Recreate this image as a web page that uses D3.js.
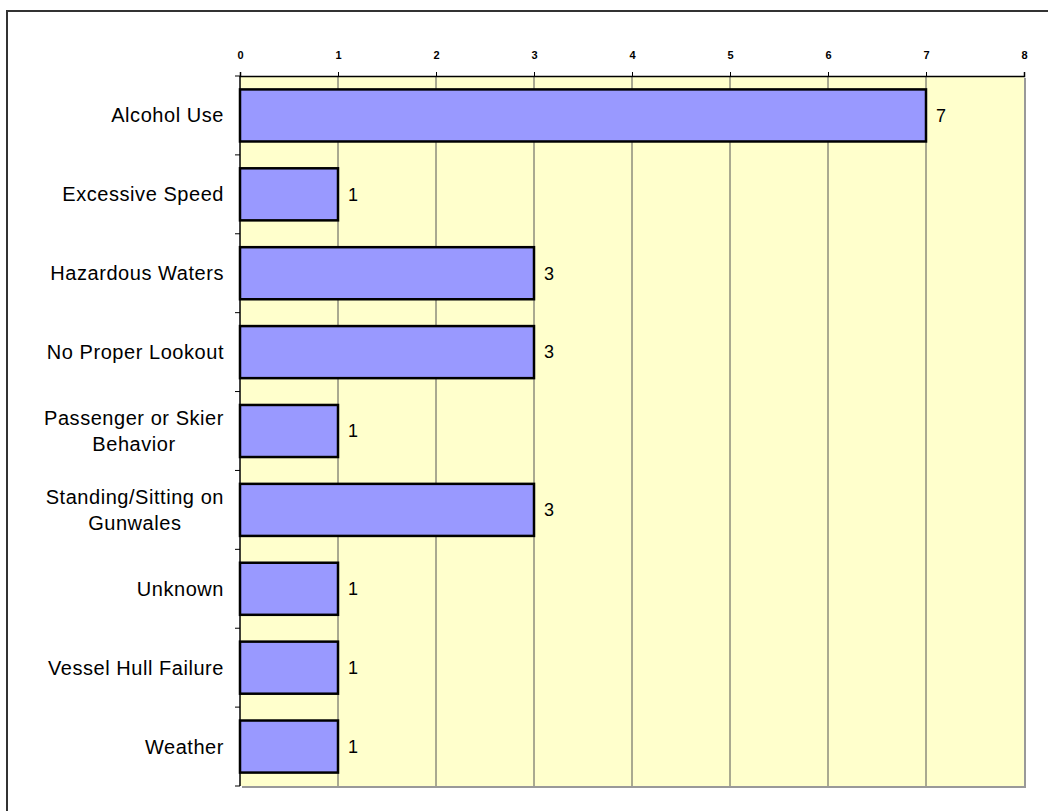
<!DOCTYPE html>
<html><head><meta charset="utf-8">
<script src="https://cdn.jsdelivr.net/npm/d3@7/dist/d3.min.js"></script>
<style>body{margin:0;background:#fff}svg{display:block}</style>
</head><body><svg id="c" width="1048" height="811"></svg>
<script>
const categories = [["Alcohol Use"],["Excessive Speed"],["Hazardous Waters"],["No Proper Lookout"],["Passenger or Skier","Behavior"],["Standing/Sitting on","Gunwales"],["Unknown"],["Vessel Hull Failure"],["Weather"]];
const values = [7,1,3,3,1,3,1,1,1];
const ticks = [0,1,2,3,4,5,6,7,8];

const FONT = "Arial, 'Liberation Sans', sans-serif";
const svg = d3.select("#c");
const m = {l:240, t:76, r:1024, b:786};
// outer border
svg.append("path").attr("d","M7,1000 V11 H1100").attr("fill","none").attr("stroke","#333").attr("stroke-width",2);

const x = d3.scaleLinear().domain([0,8]).range([m.l,m.r]);
const y = d3.scaleBand().domain(d3.range(categories.length)).range([m.t,m.b]).paddingInner(0.34).paddingOuter(0.17);
const yb = d3.scaleBand().domain(d3.range(categories.length)).range([m.t,m.b]);

// shadow
svg.append("rect").attr("x",m.l+2).attr("y",m.t+2).attr("width",m.r-m.l).attr("height",m.b-m.t).attr("fill","#999");
svg.append("rect").attr("x",m.l).attr("y",m.t).attr("width",m.r-m.l).attr("height",m.b-m.t).attr("fill","#ffffcc");

// gridlines
svg.append("g").selectAll("line").data(ticks.slice(1,-1)).join("line")
  .attr("x1",d=>x(d)).attr("x2",d=>x(d)).attr("y1",m.t).attr("y2",m.b)
  .attr("stroke","#555").attr("stroke-width",1);

// top axis
const ax = svg.append("g").attr("transform",`translate(0,${m.t})`)
  .call(d3.axisTop(x).tickValues(ticks).tickSize(4).tickPadding(13).tickFormat(d3.format("d")));
ax.select(".domain").attr("stroke","#000").attr("stroke-width",1.5);
ax.selectAll("text").attr("font-family",FONT).attr("font-size",11).attr("font-weight","bold").attr("fill","#000");

// left axis ticks
svg.append("g").selectAll("line").data(d3.range(categories.length+1)).join("line")
  .attr("x1",m.l-5).attr("x2",m.l).attr("y1",d=>m.t+d*yb.step()).attr("y2",d=>m.t+d*yb.step())
  .attr("stroke","#000");
svg.append("line").attr("x1",m.l).attr("x2",m.l).attr("y1",m.t).attr("y2",m.b).attr("stroke","#000").attr("stroke-width",1.5);

// bars
svg.append("g").selectAll("rect").data(values).join("rect")
  .attr("x",x(0)).attr("y",(d,i)=>y(i)).attr("width",d=>x(d)-x(0)).attr("height",y.bandwidth())
  .attr("fill","#9999ff").attr("stroke","#000").attr("stroke-width",2.5);

// value labels
svg.append("g").selectAll("text").data(values).join("text")
  .attr("x",d=>x(d)+10).attr("y",(d,i)=>yb(i)+yb.bandwidth()/2).attr("dy","0.35em")
  .attr("font-family",FONT).attr("font-size",18).text(d=>d);

// category labels
const lab = svg.append("g").selectAll("g").data(categories).join("g");
lab.each(function(lines,i){
  const g = d3.select(this);
  const cy = yb(i)+yb.bandwidth()/2;
  const n = lines.length, lh = 26;
  const t = g.append("text").attr("font-family",FONT).attr("font-size",20).attr("letter-spacing","0.55px").attr("fill","#000");
  lines.forEach((s,k)=>{
    t.append("tspan").attr("y",cy+(k-(n-1)/2)*lh).attr("dy","0.35em").text(s);
  });
  const tsp = t.selectAll("tspan").nodes();
  const widths = tsp.map(n=>n.getComputedTextLength());
  const W = d3.max(widths);
  tsp.forEach(node=>{ d3.select(node).attr("x",224-W/2).attr("text-anchor","middle"); });
});
</script></body></html>
